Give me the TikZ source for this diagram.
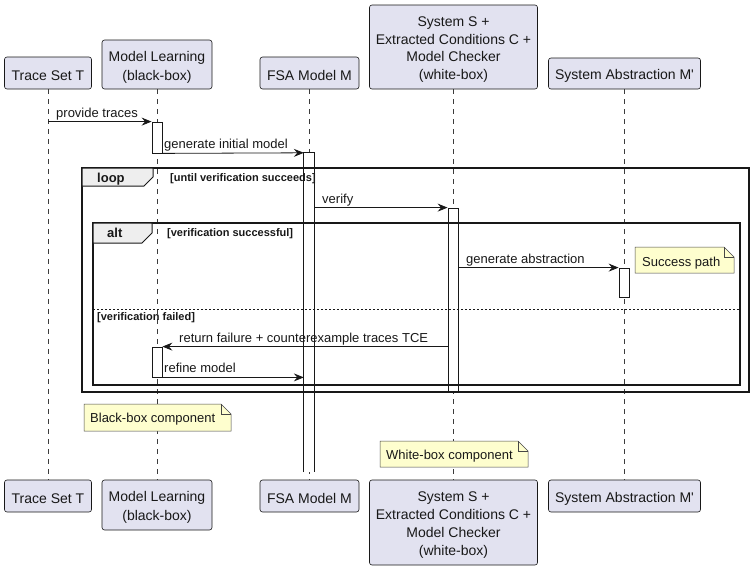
\documentclass[tikz,border=0pt]{standalone}
\usepackage{fontspec}
\setmainfont{Liberation Sans}
\usetikzlibrary{arrows.meta}
\definecolor{partfill}{HTML}{E2E2F0}
\definecolor{ink}{HTML}{181818}
\definecolor{notefill}{HTML}{FEFECE}
\definecolor{tabfill}{HTML}{EEEEEE}
\tikzset{
  partbox/.style={draw=ink, fill=partfill, rounded corners=2.5pt, line width=0.6pt, inner sep=0pt},
  parttext/.style={align=center, font=\fontsize{14}{17.8}\selectfont, inner sep=0pt, text=ink},
  lifeline/.style={draw=ink!85, dash pattern=on 5pt off 5pt, line width=0.5pt},
  actbar/.style={draw=ink, fill=white, line width=0.8pt, minimum width=10pt, inner sep=0pt},
  openbar/.style={draw=none, fill=white, minimum width=10pt, inner sep=0pt},
  barline/.style={draw=ink, line width=0.8pt},
  msg/.style={draw=ink, line width=0.8pt, -{Stealth[length=10pt,width=8pt,inset=3.5pt]}},
  msglabel/.style={font=\fontsize{13}{15}\selectfont, inner sep=0pt, anchor=base west, text=ink},
  frameline/.style={draw=ink, line width=1.5pt},
  tabshape/.style={draw=ink, fill=tabfill, line width=1pt},
  tablabel/.style={font=\bfseries\fontsize{13}{15}\selectfont, inner sep=0pt, anchor=base west, text=ink},
  condlabel/.style={font=\bfseries\fontsize{11}{13}\selectfont, inner sep=0pt, anchor=base west, text=ink},
  notebox/.style={draw=ink!80, fill=notefill, line width=0.5pt},
  notetext/.style={font=\fontsize{13}{15}\selectfont, inner sep=0pt, anchor=base west, text=ink},
  sep/.style={draw=ink, dash pattern=on 2pt off 2pt, line width=0.8pt},
}
\begin{document}
\begin{tikzpicture}[x=1pt,y=-1pt]
\useasboundingbox (0,0) rectangle (754,570);
% participants top
\node[partbox, minimum width=87pt, minimum height=32pt] (Ttop) at (48,73) {};
\node[parttext] (TtopL) at ([yshift=-2.5pt]Ttop.center) {Trace Set T};
\node[partbox, minimum width=110pt, minimum height=49pt] (Ltop) at (157,64.5) {};
\node[parttext, font=\fontsize{14}{19}\selectfont] (LtopL) at ([yshift=-2.5pt]Ltop.center) {Model Learning\\(black-box)};
\node[partbox, minimum width=99pt, minimum height=32pt] (Ftop) at (309.5,73) {};
\node[parttext] (FtopL) at ([yshift=-2.5pt]Ftop.center) {FSA Model M};
\node[partbox, minimum width=168pt, minimum height=84pt] (Stop) at (453.5,47) {};
\node[parttext] (StopL) at ([yshift=-2.5pt]Stop.center) {System S +\\Extracted Conditions C +\\Model Checker\\(white-box)};
\node[partbox, minimum width=152pt, minimum height=31pt] (Mtop) at (624.5,73.5) {};
\node[parttext] (MtopL) at ([yshift=-2.5pt]Mtop.center) {System Abstraction M\textquotesingle};
% participants bottom
\node[partbox, minimum width=87pt, minimum height=32pt] (Tbot) at (48,496) {};
\node[parttext] (TbotL) at ([yshift=-2.5pt]Tbot.center) {Trace Set T};
\node[partbox, minimum width=110pt, minimum height=50pt] (Lbot) at (157,505) {};
\node[parttext, font=\fontsize{14}{19}\selectfont] (LbotL) at ([yshift=-2.5pt]Lbot.center) {Model Learning\\(black-box)};
\node[partbox, minimum width=99pt, minimum height=32pt] (Fbot) at (309.5,496) {};
\node[parttext] (FbotL) at ([yshift=-2.5pt]Fbot.center) {FSA Model M};
\node[partbox, minimum width=168pt, minimum height=85pt] (Sbot) at (453.5,522.5) {};
\node[parttext] (SbotL) at ([yshift=-2.5pt]Sbot.center) {System S +\\Extracted Conditions C +\\Model Checker\\(white-box)};
\node[partbox, minimum width=152pt, minimum height=32pt] (Mbot) at (624.5,496) {};
\node[parttext] (MbotL) at ([yshift=-2.5pt]Mbot.center) {System Abstraction M\textquotesingle};
% lifelines
\draw[lifeline] (Ttop.south) -- (Tbot.north);
\draw[lifeline] (Ltop.south) -- (Lbot.north);
\draw[lifeline] (Ftop.south) -- (Fbot.north);
\draw[lifeline] (Stop.south) -- (Sbot.north);
\draw[lifeline] (Mtop.south) -- (Mbot.north);
% activation bars
\node[actbar, minimum height=31pt] (a1) at (157,137.5) {};
\node[openbar, minimum height=319pt] (fa) at (309,312.5) {};
\draw[barline] (fa.south west) -- (fa.north west) -- (fa.north east) -- (fa.south east);
\node[actbar, minimum height=184pt] (sa) at (453,300) {};
\node[actbar, minimum height=29pt] (ma) at (624,282.5) {};
\node[actbar, minimum height=30pt] (a2) at (157,362) {};
% loop frame
\draw[frameline] (82,168) rectangle (749,392);
\draw[tabshape] (82,168) -- (153,168) -- (153,177) -- (144,186) -- (82,186) -- cycle;
\node[tablabel] (looplbl) at (97,182) {loop};
\node[condlabel] (loopcond) at (170,181.5) {[until verification succeeds]};
% alt frame
\draw[frameline] (93,223) rectangle (740,385);
\draw[tabshape] (93,223) -- (152,223) -- (152,233) -- (142,243) -- (93,243) -- cycle;
\node[tablabel] (altlbl) at (107,237) {alt};
\node[condlabel] (altcond1) at (167,236.5) {[verification successful]};
\draw[sep] (93,309) -- (740,309);
\node[condlabel] (altcond2) at (97,320.5) {[verification failed]};
% messages
\draw[msg] (Ttop.south |- a1.north west) -- (a1.north west);
\node[msglabel] at (56,117.5) {provide traces};
\draw[msg] (a1.south east) -- (fa.north west);
\node[msglabel] at (164,148.5) {generate initial model};
\draw[msg] (fa.east |- sa.north west) -- (sa.north west);
\node[msglabel] at (322,203.5) {verify};
\draw[msg] (sa.east |- ma.north west) -- (ma.north west);
\node[msglabel] at (466,263.5) {generate abstraction};
\draw[msg] (sa.west |- a2.north east) -- (a2.north east);
\node[msglabel] at (179,342.5) {return failure + counterexample traces TCE};
\draw[msg] (a2.south east) -- (fa.west |- a2.south east);
\node[msglabel] at (164,372.5) {refine model};
% notes
\draw[notebox] (635,247) -- (724,247) -- (734,257) -- (734,273) -- (635,273) -- cycle;
\draw[notebox, fill=none] (724,247) -- (724,257) -- (734,257);
\node[notetext] (n1) at (642,266) {Success path};
\draw[notebox] (84,404) -- (221,404) -- (231,414) -- (231,431) -- (84,431) -- cycle;
\draw[notebox, fill=none] (221,404) -- (221,414) -- (231,414);
\node[notetext] (n2) at (90,422.5) {Black-box component};
\draw[notebox] (380,441) -- (518,441) -- (528,451) -- (528,467) -- (380,467) -- cycle;
\draw[notebox, fill=none] (518,441) -- (518,451) -- (528,451);
\node[notetext] (n3) at (386,459) {White-box component};
\end{tikzpicture}
\end{document}
